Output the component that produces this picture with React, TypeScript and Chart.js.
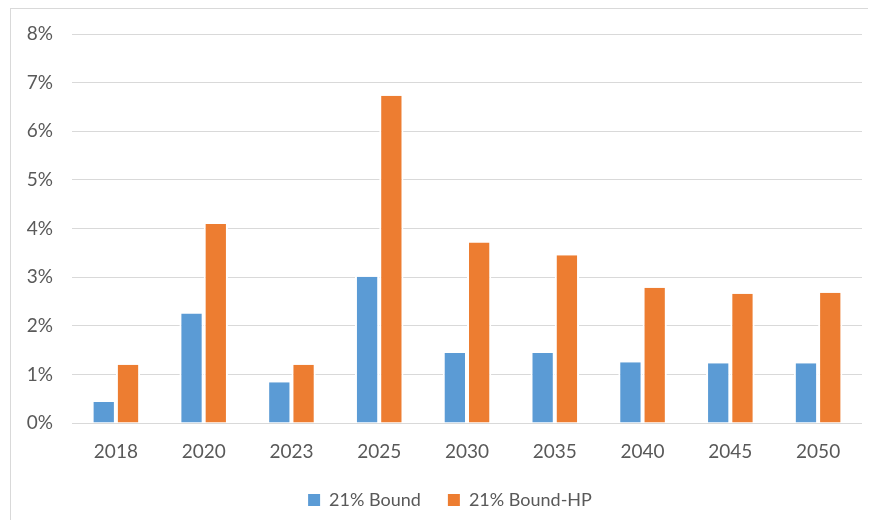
import React, { useEffect, useRef } from "react";
import { Chart, registerables } from "chart.js";

Chart.register(...registerables);

const categories = ["2018", "2020", "2023", "2025", "2030", "2035", "2040", "2045", "2050"];
const boundValues = [0.43, 2.25, 0.84, 3.01, 1.44, 1.44, 1.25, 1.23, 1.23];
const boundHPValues = [1.2, 4.09, 1.2, 6.73, 3.71, 3.45, 2.78, 2.66, 2.68];
const seriesNames = ["21% Bound", "21% Bound-HP"];
const yTicks = [0, 1, 2, 3, 4, 5, 6, 7, 8];

const FONT = "Lato, 'Open Sans', sans-serif";
const TEXT = "#595959";

const shiftLegend = {
  id: "shiftLegend",
  afterLayout(chart: any) {
    const lg = chart.legend;
    if (lg) {
      lg.left += 19;
      lg.right += 19;
    }
  },
};

export default function App() {
  const ref = useRef<HTMLCanvasElement | null>(null);
  useEffect(() => {
    if (!ref.current) return;
    const barBorder = { left: 2, right: 2, top: 0, bottom: 0 };
    const chart = new Chart(ref.current, {
      type: "bar",
      plugins: [shiftLegend],
      data: {
        labels: categories,
        datasets: [
          {
            label: seriesNames[0],
            data: boundValues,
            backgroundColor: "#5B9BD5",
            borderColor: "#ffffff",
            borderWidth: barBorder,
            borderSkipped: false,
          },
          {
            label: seriesNames[1],
            data: boundHPValues,
            backgroundColor: "#ED7D31",
            borderColor: "#ffffff",
            borderWidth: barBorder,
            borderSkipped: false,
          },
        ],
      },
      options: {
        animation: false,
        responsive: false,
        maintainAspectRatio: false,
        layout: { padding: { top: 34, right: 14, bottom: 9, left: 0 } },
        datasets: { bar: { categoryPercentage: 0.553, barPercentage: 1 } },
        plugins: {
          tooltip: { enabled: false },
          legend: {
            position: "bottom",
            labels: {
              color: TEXT,
              font: { family: FONT, size: 18 },
              boxWidth: 12,
              boxHeight: 12,
              padding: 27,
              generateLabels: (c: any) =>
                c.data.datasets.map((ds: any, i: number) => ({
                  text: ds.label,
                  fillStyle: ds.backgroundColor,
                  strokeStyle: ds.backgroundColor,
                  lineWidth: 0,
                  hidden: false,
                  datasetIndex: i,
                  fontColor: TEXT,
                })),
            },
          },
        },
        scales: {
          x: {
            grid: { display: false },
            border: { display: false },
            ticks: { color: TEXT, font: { family: FONT, size: 19 }, padding: 9 },
            afterFit: (s: any) => {
              s.height = 41;
            },
          },
          y: {
            min: 0,
            max: 8,
            afterBuildTicks: (s: any) => {
              s.ticks = yTicks.map((v) => ({ value: v }));
            },
            grid: { color: "#d9d9d9", lineWidth: 1, drawTicks: false },
            border: { display: false },
            ticks: {
              color: TEXT,
              font: { family: FONT, size: 19 },
              padding: 19,
              callback: (v: any) => `${v}%`,
            },
            afterFit: (s: any) => {
              s.width = 72;
            },
          },
        },
      },
    });
    return () => chart.destroy();
  }, []);
  return (
    <div style={{ position: "relative", width: 876, height: 528, margin: -8, overflow: "hidden", background: "#fff" }}>
      <div
        style={{
          position: "absolute",
          left: 10,
          top: 7,
          width: 1000,
          height: 1000,
          borderTop: "2px solid #d9d9d9",
          borderLeft: "1px solid #d9d9d9",
        }}
      />
      <canvas ref={ref} width={876} height={528} style={{ position: "absolute", left: 0, top: 0 }} />
    </div>
  );
}
